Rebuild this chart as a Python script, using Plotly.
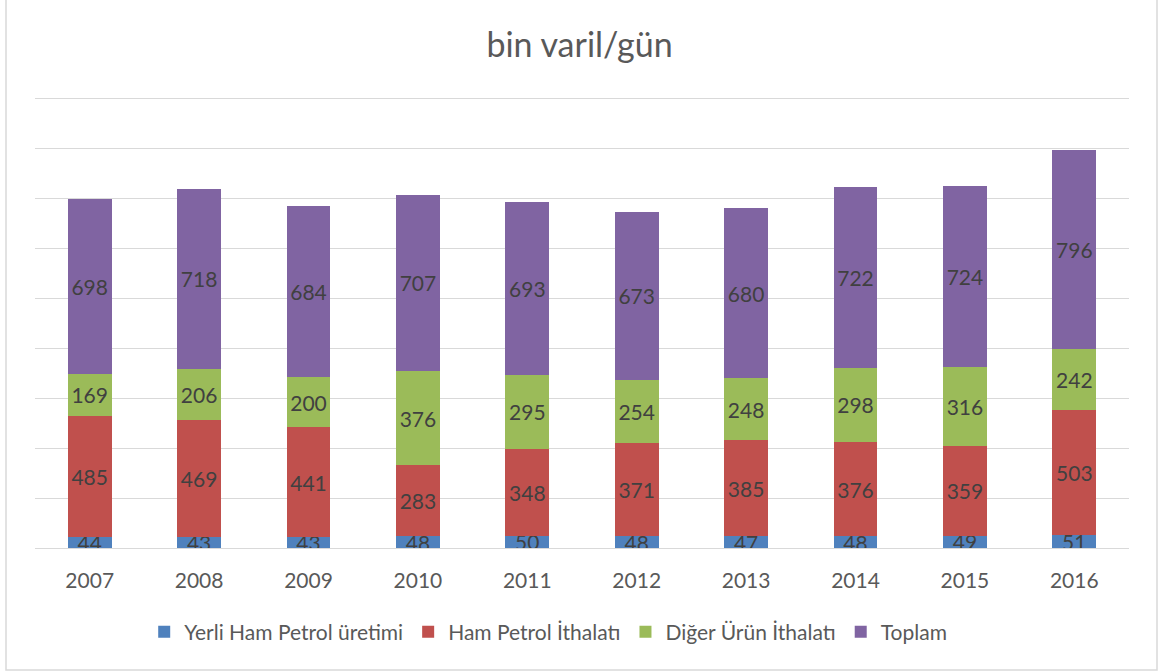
import plotly.graph_objects as go

years = ["2007", "2008", "2009", "2010", "2011", "2012", "2013", "2014", "2015", "2016"]
yerli = [44, 43, 43, 48, 50, 48, 47, 48, 49, 51]
ham_ithalat = [485, 469, 441, 283, 348, 371, 385, 376, 359, 503]
diger_ithalat = [169, 206, 200, 376, 295, 254, 248, 298, 316, 242]
toplam = [698, 718, 684, 707, 693, 673, 680, 722, 724, 796]

series = [
    ("Yerli Ham Petrol üretimi", yerli, "#4F81BD"),
    ("Ham Petrol İthalatı", ham_ithalat, "#C0504D"),
    ("Diğer Ürün İthalatı", diger_ithalat, "#9BBB59"),
    ("Toplam", toplam, "#8064A2"),
]

font_family = "Lato, 'Open Sans', sans-serif"
text_color = "#595959"

fig = go.Figure()
for name, vals, color in series:
    fig.add_trace(go.Bar(
        x=years, y=vals, name=name,
        marker=dict(color=color, line=dict(width=0)),
        text=[str(v) for v in vals],
        textposition="inside",
        insidetextanchor="middle",
        constraintext="none",
        textangle=0,
        textfont=dict(family=font_family, size=21, color="#404040"),
        width=0.4,
    ))

# plot area: 460px tall for 0..1840, so 1800 sits at y=98 like the reference
fig.update_layout(
    barmode="stack",
    width=1159, height=672,
    margin=dict(l=35, r=30, t=88, b=124, autoexpand=False),
    paper_bgcolor="white",
    plot_bgcolor="white",
    font=dict(family=font_family, color=text_color),
    title=dict(text="bin varil/gün", x=0.5, xanchor="center", xref="container",
               y=1 - 45 / 672, yanchor="middle", yref="container",
               font=dict(size=34, color=text_color, family=font_family)),
    xaxis=dict(showgrid=False, ticks="outside", ticklen=14, tickcolor="rgba(0,0,0,0)",
               tickfont=dict(size=21, color=text_color), showline=False),
    yaxis=dict(range=[0, 1840], tickvals=list(range(0, 2000, 200)), showticklabels=False,
               gridcolor="#D9D9D9", gridwidth=1, zeroline=True, zerolinecolor="#D9D9D9",
               zerolinewidth=1),
    legend=dict(orientation="h", x=0.473, xanchor="center", xref="container",
                y=1 - 632 / 672, yanchor="middle", yref="container",
                font=dict(size=21, color=text_color), traceorder="normal"),
    shapes=[dict(type="rect", xref="paper", yref="paper", x0=(6 - 35) / 1094, x1=(1157 - 35) / 1094,
                 y0=(548 - 670) / 460, y1=(548 + 20) / 460, line=dict(color="#D9D9D9", width=1.5),
                 fillcolor="rgba(0,0,0,0)", layer="below")],
)

fig.write_html("out.html", config={"displayModeBar": False},
               post_script="document.body.style.margin='0';")
